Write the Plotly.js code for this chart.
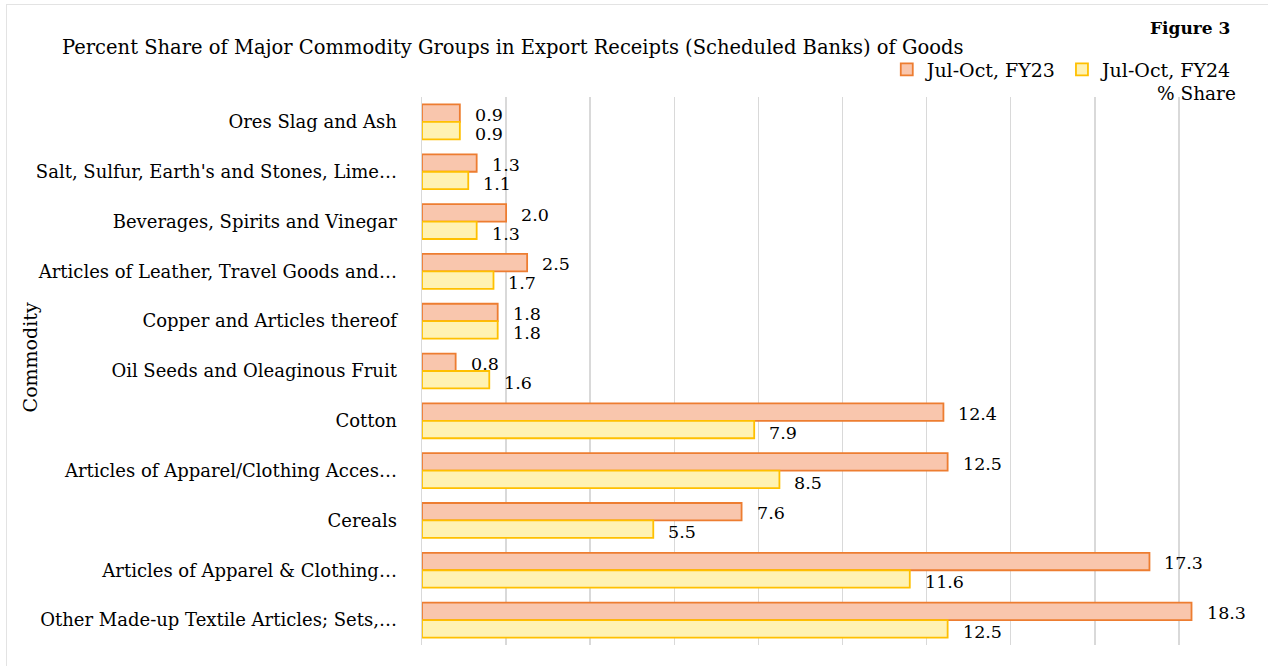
<!DOCTYPE html>
<html>
<head>
<meta charset="utf-8">
<script src="https://cdn.plot.ly/plotly-3.0.1.min.js"></script>
<style>
  html, body { margin: 0; padding: 0; background: #fff; }
  #wrap { position: relative; width: 1268px; height: 668px; }
  #chart { width: 1268px; height: 668px; }
  #frame { position: absolute; left: 6px; top: 4px; width: 1262px; height: 662px; border-left: 1px solid #e3e3e3; border-top: 1px solid #e3e3e3; pointer-events: none; box-sizing: border-box; }
</style>
</head>
<body>
<div id="wrap">
<div id="chart"></div>
<div id="frame"></div>
</div>
<script>
const categories = [
  "Ores Slag and Ash",
  "Salt, Sulfur, Earth's and Stones, Lime…",
  "Beverages, Spirits and Vinegar",
  "Articles of Leather, Travel Goods and…",
  "Copper and Articles thereof",
  "Oil Seeds and Oleaginous Fruit",
  "Cotton",
  "Articles of Apparel/Clothing Acces…",
  "Cereals",
  "Articles of Apparel & Clothing…",
  "Other Made-up Textile Articles; Sets,…"
];
const fy23 = [0.9, 1.3, 2.0, 2.5, 1.8, 0.8, 12.4, 12.5, 7.6, 17.3, 18.3];
const fy24 = [0.9, 1.1, 1.3, 1.7, 1.8, 1.6, 7.9, 8.5, 5.5, 11.6, 12.5];
const seriesNames = ["Jul-Oct, FY23", "Jul-Oct, FY24"];

const FONT = "DejaVu Serif, serif";

const traces = [
  {
    type: 'bar', orientation: 'h', name: seriesNames[0],
    y: categories, x: fy23,
    marker: { color: '#F9C6AD', line: { color: '#ED7D31', width: 1.8 } },
    hoverinfo: 'x+y'
  },
  {
    type: 'bar', orientation: 'h', name: seriesNames[1],
    y: categories, x: fy24,
    marker: { color: '#FFF2B3', line: { color: '#FFC000', width: 1.8 } },
    hoverinfo: 'x+y'
  }
];

const annotations = [];
categories.forEach((c, i) => {
  annotations.push({ x: fy23[i], y: c, xref: 'x', yref: 'y', text: fy23[i].toFixed(1),
    showarrow: false, xanchor: 'left', yanchor: 'middle', xshift: 13, yshift: 7,
    font: { family: FONT, size: 17.5, color: '#000' } });
  annotations.push({ x: fy24[i], y: c, xref: 'x', yref: 'y', text: fy24[i].toFixed(1),
    showarrow: false, xanchor: 'left', yanchor: 'middle', xshift: 13, yshift: -12,
    font: { family: FONT, size: 17.5, color: '#000' } });
});
annotations.push({ xref: 'paper', yref: 'paper', x: 0.963, y: 1.126, xanchor: 'right', yanchor: 'middle',
  text: '<b>Figure 3</b>', showarrow: false, font: { family: FONT, size: 17, color: '#000' } });
annotations.push({ xref: 'paper', yref: 'paper', x: 0.97, y: 1.006, xanchor: 'right', yanchor: 'middle',
  text: '% Share', showarrow: false, font: { family: FONT, size: 18.5, color: '#000' } });
annotations.push({ xref: 'paper', yref: 'paper', x: -0.466, y: 0.525, xanchor: 'center', yanchor: 'middle',
  text: 'Commodity', textangle: -90, showarrow: false, font: { family: FONT, size: 19, color: '#000' } });

const layout = {
  width: 1268, height: 668,
  margin: { l: 422, r: 5, t: 97, b: 23 },
  paper_bgcolor: '#fff', plot_bgcolor: '#fff',
  font: { family: FONT, size: 18, color: '#000' },
  title: { text: 'Percent Share of Major Commodity Groups in Export Receipts (Scheduled Banks) of Goods',
    x: 62/1268, xanchor: 'left', y: 1 - 47/668, yanchor: 'middle',
    font: { family: FONT, size: 19.5, color: '#000' } },
  barmode: 'group', bargap: 0.3, bargroupgap: 0,
  xaxis: { range: [0, 20], dtick: 2, showticklabels: false, showgrid: true, gridcolor: '#d9d9d9', gridwidth: 1.5,
    zeroline: false, showline: false, fixedrange: true },
  yaxis: { autorange: 'reversed', type: 'category', showgrid: false, showline: true, linecolor: '#d9d9d9', linewidth: 1.5,
    ticks: '', ticklabelstandoff: 20, tickfont: { family: FONT, size: 18, color: '#000' } },
  showlegend: true,
  legend: { orientation: 'h', x: 0.97, xanchor: 'right', y: 1.05, yanchor: 'middle',
    font: { family: FONT, size: 19, color: '#000' }, itemwidth: 30, traceorder: 'normal', bgcolor: 'rgba(0,0,0,0)' },
  annotations: annotations
};

Plotly.newPlot('chart', traces, layout, { displayModeBar: false, staticPlot: true });
</script>
</body>
</html>
